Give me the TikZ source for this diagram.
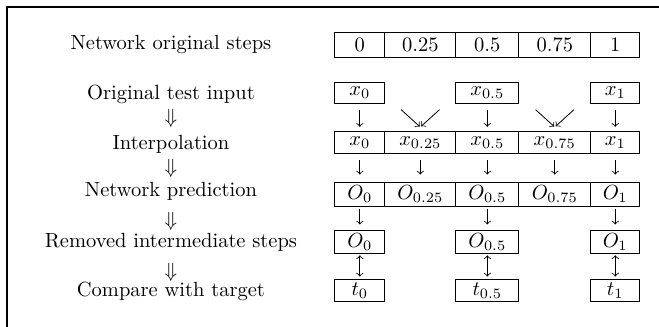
\documentclass[tikz,border=0pt]{standalone}
\usetikzlibrary{calc}
\begin{document}
\begin{tikzpicture}
    % Define colours
    \definecolor{borderColour}{HTML}{000000}

    % Define styles
    \tikzset{
        cell/.style={draw=borderColour, line width=0.4pt, inner sep=0pt},
        rowlabel/.style={anchor=base, inner sep=0pt},
        flow/.style={->, line width=0.4pt}
    }

    % Define picture size and label column
    \def\picWidth{11.30}
    \def\picHeight{5.605}
    \def\labelX{2.931}

    \useasboundingbox (0,0) rectangle (\picWidth,-\picHeight);

    % Draw frame
    \draw[borderColour, line width=0.8pt] (0.12,-\picHeight) -- (0.12,-0.12) -- (\picWidth,-0.12);

    % Draw the row labels
    \node[rowlabel] (lsteps) at (\labelX,-0.857) {Network original steps};
    \node[rowlabel] (linput) at (\labelX,-1.705) {Original test input};
    \node[rowlabel] (linterp) at (\labelX,-2.562) {Interpolation};
    \node[rowlabel] (lpred) at (\labelX,-3.371) {Network prediction};
    \node[rowlabel] (lremoved) at (\labelX,-4.239) {Removed intermediate steps};
    \node[rowlabel] (ltarget) at (\labelX,-5.085) {Compare with target};

    % Draw the arrows between the labels
    \node (d1) at (\labelX,-2.023) {$\Downarrow$};
    \node (d2) at (\labelX,-2.880) {$\Downarrow$};
    \node (d3) at (\labelX,-3.788) {$\Downarrow$};
    \node (d4) at (\labelX,-4.662) {$\Downarrow$};

    % Draw steps, interpolation and prediction for every column
    \foreach \n/\x/\w/\s in {1/6.170/0.857/0, 2/7.207/1.217/0.25, 3/8.356/1.080/0.5, 4/9.513/1.234/0.75, 5/10.550/0.840/1} {
        \node[cell, minimum width=\w cm, minimum height=0.429cm] (s\n) at (\x,-0.768) {$\s$};
        \node[cell, minimum width=\w cm, minimum height=0.370cm] (ip\n) at (\x,-2.442) {$x_{\s}$};
        \node[cell, minimum width=\w cm, minimum height=0.406cm] (p\n) at (\x,-3.328) {$O_{\s}$};
        \draw[flow, shorten <=0.115cm, shorten >=0.125cm] (ip\n) -- (p\n);
    }

    % Draw input, kept steps and targets for the original steps
    \foreach \n/\x/\w/\s in {1/6.170/0.857/0, 3/8.356/1.080/0.5, 5/10.550/0.840/1} {
        \node[cell, minimum width=\w cm, minimum height=0.355cm] (in\n) at (\x,-1.588) {$x_{\s}$};
        \node[cell, minimum width=\w cm, minimum height=0.411cm] (r\n) at (\x,-4.148) {$O_{\s}$};
        \node[cell, minimum width=\w cm, minimum height=0.372cm] (t\n) at (\x,-4.985) {$t_{\s}$};
        \draw[flow, shorten <=0.12cm, shorten >=0.075cm] (in\n) -- (ip\n);
        \draw[flow, shorten <=0.05cm, shorten >=0.086cm] (p\n) -- (r\n);
        \draw[<->, line width=0.4pt, shorten <=0.017cm, shorten >=0.05cm] (r\n) -- (t\n);
    }

    % Draw the crossing arrows into the interpolated steps
    \foreach \n in {2,4} {
        \coordinate (dl\n) at ($(ip\n.north)+(-0.33,0.37)$);
        \coordinate (dr\n) at ($(ip\n.north)+(0.33,0.37)$);
        \draw[flow] (dl\n) -- ([xshift=-0.01cm, yshift=0.08cm]ip\n.north);
        \draw[flow] (dr\n) -- ([xshift=0.015cm, yshift=0.085cm]ip\n.north);
    }

\end{tikzpicture}
\end{document}
